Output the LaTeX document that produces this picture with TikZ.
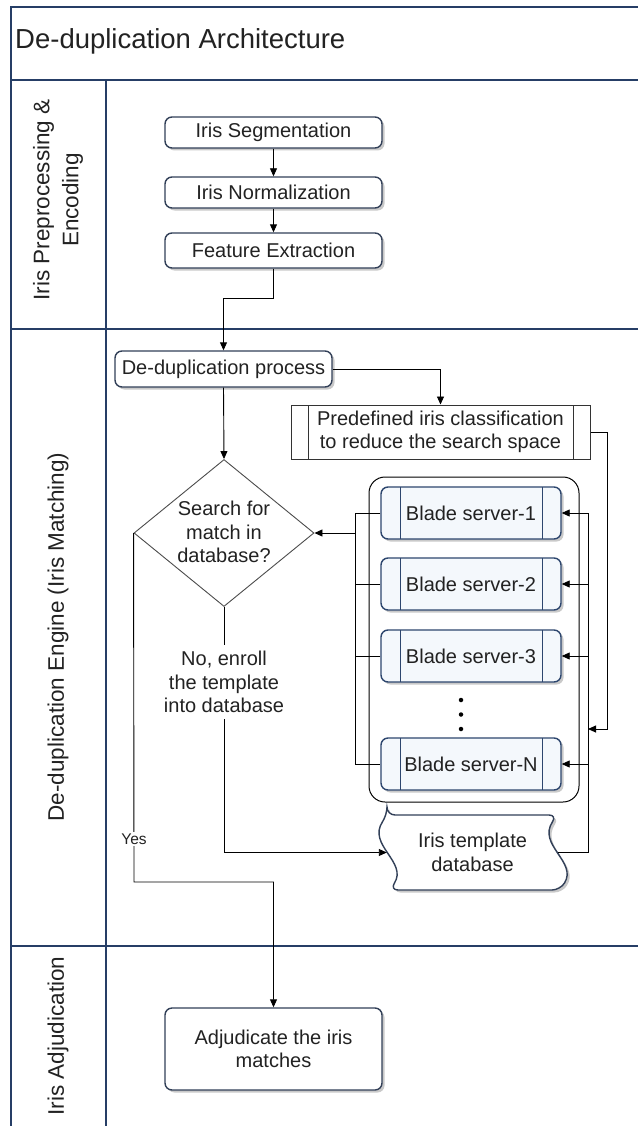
\documentclass[tikz,border=0pt]{standalone}
\usepackage{fontspec}
\setmainfont{Liberation Sans}
\usetikzlibrary{arrows.meta,shapes.geometric,shadows}
\definecolor{lane}{RGB}{38,62,102}
\definecolor{boxb}{RGB}{50,64,88}
\definecolor{txt}{RGB}{34,34,34}
\definecolor{bladefill}{RGB}{244,248,252}
\definecolor{bladeline}{RGB}{45,70,110}
\begin{document}
\begin{tikzpicture}[x=1pt,y=-1pt,
  every node/.style={text=txt},
  lanel/.style={draw=lane,line width=2pt},
  shad/.style={drop shadow={shadow xshift=2.5pt,shadow yshift=-2.5pt,fill=black!35,opacity=0.6}},
  boxtext/.style={font=\fontsize{20}{23.5}\selectfont},
  proc/.style={draw=boxb, line width=1.4pt, rounded corners=7pt, fill=white,
    minimum width=217pt, inner sep=0pt, align=center, boxtext, shad},
  blade/.style={draw=bladeline, line width=1.4pt, rounded corners=7pt, fill=bladefill,
    minimum width=180pt, minimum height=52pt, inner sep=0pt, boxtext, shad,
    path picture={
      \draw[bladeline,line width=1pt] ([xshift=19pt]path picture bounding box.north west) -- ([xshift=19pt]path picture bounding box.south west);
      \draw[bladeline,line width=1pt] ([xshift=-19pt]path picture bounding box.north east) -- ([xshift=-19pt]path picture bounding box.south east);}},
  predef/.style={draw=black!80, line width=1pt, fill=white, minimum width=299pt,
    minimum height=54pt, inner sep=0pt, align=center, boxtext,
    path picture={
      \draw[black!80,line width=1pt] ([xshift=17pt]path picture bounding box.north west) -- ([xshift=17pt]path picture bounding box.south west);
      \draw[black!80,line width=1pt] ([xshift=-17pt]path picture bounding box.north east) -- ([xshift=-17pt]path picture bounding box.south east);}},
  dia/.style={draw=black!70, line width=0.9pt, diamond, minimum width=180pt,
    minimum height=147pt, inner sep=0pt, fill=white},
  conn/.style={draw=black, line width=0.9pt},
  arr/.style={conn, -{Triangle[length=8pt,width=7pt]}},
  lanetext/.style={rotate=90, align=center, font=\fontsize{22.5}{29}\selectfont},
]
\useasboundingbox (0,0) rectangle (637,1126);
\fill[white] (0,0) rectangle (637,1126);

% swimlane frame
\draw[lanel] (11,7) rectangle (660,1160);
\draw[lanel] (11,80) -- (660,80);
\draw[lanel] (11,329) -- (660,329);
\draw[lanel] (11,946) -- (660,946);
\draw[lanel] (106,80) -- (106,1160);

\node[anchor=west, font=\fontsize{27.5}{32}\selectfont, inner sep=0pt] (title) at (15,41) {De-duplication Architecture};
\node[lanetext] (l1) at (58,200) {Iris Preprocessing \&\\Encoding};
\node[lanetext] (l2) at (58,637) {De-duplication Engine (Iris Matching)};
\node[lanetext] (l3) at (58,1036) {Iris Adjudication};

% lane 1
\node[proc, minimum height=31pt] (seg) at (273.5,132.5) {Iris Segmentation};
\node[proc, minimum height=31pt] (norm) at (273.5,192.5) {Iris Normalization};
\node[proc, minimum height=35pt] (feat) at (273.5,250.5) {Feature Extraction};

% lane 2
\node[proc, minimum height=36pt] (dedup) at (223.5,369) {De-duplication process};
\node[predef] (pre) at (440.5,432) {Predefined iris classification\\to reduce the search space};
\node[dia] (dia) at (224,533) {};
\node[align=center, boxtext, inner sep=0pt] (diat) at (224,532) {Search for\\match in\\database?};

\node[draw=black, line width=1pt, rounded corners=16pt, minimum width=210pt, minimum height=325pt, inner sep=0pt] (cont) at (474,639.5) {};
\node[blade] (b1) at (471,513) {Blade server-1};
\node[blade] (b2) at (471,584) {Blade server-2};
\node[blade] (b3) at (471,656) {Blade server-3};
\node[blade] (bN) at (471,764) {Blade server-N};
\node[circle, fill=black, inner sep=0pt, minimum size=4.5pt] (d1) at (461,700) {};
\node[circle, fill=black, inner sep=0pt, minimum size=4.5pt] (d2) at (461,714.5) {};
\node[circle, fill=black, inner sep=0pt, minimum size=4.5pt] (d3) at (461,729) {};

% database (stored data shape)
\path[draw=boxb, line width=1.4pt, fill=white, rounded corners=8pt, shad]
  (387,815) -- (557,815) .. controls (537,845) and (578,862) .. (560,890)
  -- (390,890) .. controls (408,862) and (367,845) .. (387,815) -- cycle;
\node[inner sep=0pt, minimum width=171pt, minimum height=75pt, align=center, boxtext] (db) at (472.5,852.5) {Iris template\\database};

% lane 3
\node[proc, minimum height=82pt] (adj) at (273.5,1049) {Adjudicate the iris\\matches};

% connectors
\draw[arr] (seg.south) -- (norm.north);
\draw[arr] (norm.south) -- (feat.north);
\draw[arr] (feat.south) -- ++(0,30) -| (dedup.north);
\draw[arr] (dedup.east) -| (pre.north);
\draw[arr] (dedup.south) -- (dia.north);

\coordinate (rtop) at (588,513);
\coordinate (rbot) at (588,852.5);
\coordinate (outer) at (607,729);
\draw[conn] (db.east) -- (rbot) -- (rtop);
\draw[arr] (rtop) -- (b1.east);
\draw[arr] (b2.east -| rtop) -- (b2.east);
\draw[arr] (b3.east -| rtop) -- (b3.east);
\draw[arr] (bN.east -| rtop) -- (bN.east);
\draw[arr] (pre.east) -| (outer) -- (outer -| rtop);

\coordinate (ltop) at (355,513);
\coordinate (lbot) at (355,764);
\draw[conn] (b1.west) -- (ltop) -- (lbot) -- (bN.west);
\draw[conn] (b2.west) -- (b2.west -| ltop);
\draw[conn] (b3.west) -- (b3.west -| ltop);
\draw[arr] (dia.east -| ltop) -- (dia.east);

\node[fill=white, inner sep=0pt, minimum height=74pt, align=center, boxtext] (nol) at (224,682) {No, enroll\\the template\\into database};
\draw[conn] (dia.south) -- (nol.north);
\draw[arr] (nol.south) |- (db.west);

\coordinate (ybend) at (134,882);
\draw[arr] (dia.west) -- (ybend) -| (adj.north);
\node[fill=white, inner sep=1.5pt, font=\fontsize{15.5}{18}\selectfont] (yes) at (134,839) {Yes};
\end{tikzpicture}
\end{document}
